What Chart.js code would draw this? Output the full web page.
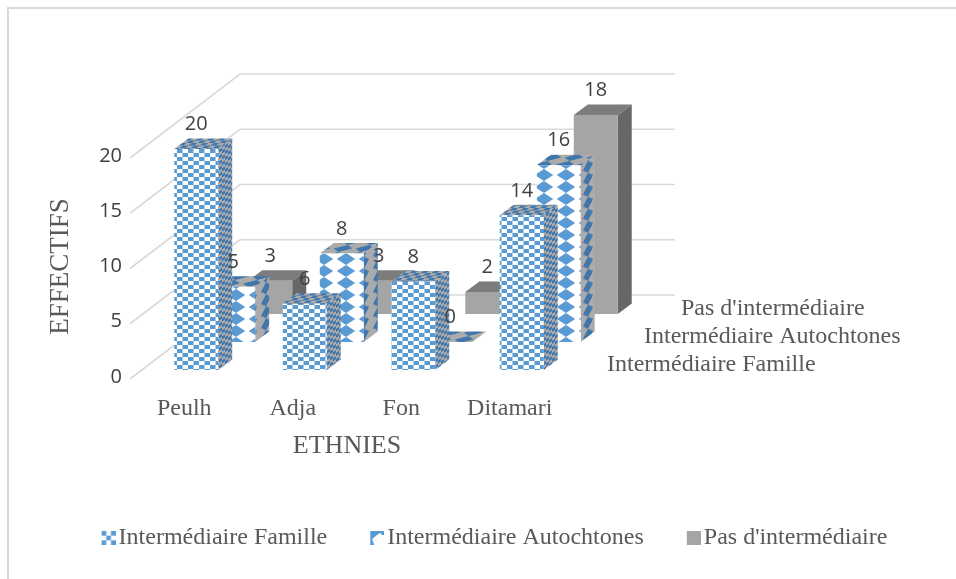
<!DOCTYPE html>
<html><head><meta charset="utf-8">
<style>
html,body{margin:0;padding:0;background:#fff;overflow:hidden}
#frame{position:absolute;left:7px;top:7px;right:0;bottom:0;border-left:2px solid #d9d9d9;border-top:2px solid #d9d9d9}
canvas{position:absolute;left:0;top:0}
</style>
<script src="https://cdn.jsdelivr.net/npm/chart.js@4"></script>
</head><body><div id="frame"></div><canvas id="c" width="956" height="579"></canvas>
<script>
const categories = ['Peulh','Adja','Fon','Ditamari'];
const seriesNames = ['Intermédiaire Famille','Intermédiaire Autochtones',"Pas d'intermédiaire"];
const famille = [20,6,8,14];
const autochtones = [5,8,0,16];
const aucun = [3,3,2,18];
const yTicks = [0,5,10,15,20];
const SERIF = '"Liberation Serif"', SANS = '"Open Sans"';
const BLUE = '#5B9BD5', DARKBLUE = '#3F76AB', SIDEGREY = '#ABABAB';

function tile(w,h,draw){const c=document.createElement('canvas');c.width=w;c.height=h;draw(c.getContext('2d'),w,h);return c;}
const ctxMain=document.getElementById('c').getContext('2d');
function checker(a,b,w,h){return tile(w,h,(g)=>{g.fillStyle=a;g.fillRect(0,0,w,h);g.fillStyle=b;g.fillRect(0,0,w/2,h/2);g.fillRect(w/2,h/2,w/2,h/2);});}
function diamond(bg,fg,w,h,k){return tile(w,h,(g)=>{g.fillStyle=bg;g.fillRect(0,0,w,h);g.fillStyle=fg;g.beginPath();g.moveTo(w/2-w*k,h/2);g.lineTo(w/2,0);g.lineTo(w/2+w*k,h/2);g.lineTo(w/2,h);g.closePath();g.fill();});}
function pat(c,m){const p=ctxMain.createPattern(c,'repeat');if(m)p.setTransform(m);return p;}
const sideM=new DOMMatrix([1,-0.75,0,1,0,0]);
const topM=new DOMMatrix([1,0,-1.33,1,0,0]);
const front=[pat(checker(BLUE,'#fff',11,8)),pat(diamond('#fff',BLUE,22,12,0.42)),'#A5A5A5'];
const side=[pat(checker(DARKBLUE,SIDEGREY,6,6),sideM),pat(diamond(SIDEGREY,DARKBLUE,14,12,0.36),sideM),'#676767'];
const topF=[pat(checker(DARKBLUE,SIDEGREY,11,5),topM),pat(diamond(SIDEGREY,DARKBLUE,22,7,0.42),topM),'#7C7C7C'];

const swatches=[
 tile(18,14,(g)=>{g.translate(4,0);g.fillStyle='#fff';g.fillRect(0,0,14,14);g.fillStyle=BLUE;for(let i=0;i<3;i++)for(let j=0;j<3;j++)if((i+j)%2==0)g.fillRect(i*4.67,j*4.67,4.67,4.67);}),
 tile(18,14,(g)=>{g.translate(4,0);g.fillStyle=BLUE;g.fillRect(0,0,14,14);g.fillStyle='#fff';g.beginPath();g.moveTo(2,8);g.lineTo(8,3);g.lineTo(14,1);g.lineTo(14,14);g.lineTo(4,14);g.closePath();g.fill();g.fillStyle=BLUE;g.fillRect(11,1,3,3);}),
 tile(18,14,(g)=>{g.translate(4,0);g.fillStyle='#A5A5A5';g.fillRect(0,0,14,14);})
];

// Depth of the 3D box: each series sits further back along the floor
const DEPTH_STEP={x:37,y:-28};
const FIRST={x:12,y:-7};
const BAR_DEPTH={x:14,y:-10.5};
const WALL={x:110,y:-82};
const off=(i)=>({x:FIRST.x+i*DEPTH_STEP.x,y:FIRST.y+i*DEPTH_STEP.y});

const box3d={
 id:'box3d',
 beforeDatasetsDraw(chart){
  const {ctx,scales:{y,x}}=chart;
  ctx.save();ctx.strokeStyle='#D9D9D9';ctx.lineWidth=1.6;
  yTicks.forEach(v=>{const py=y.getPixelForValue(v);
   ctx.beginPath();ctx.moveTo(x.left,py+2);ctx.lineTo(x.left+WALL.x,py+WALL.y);ctx.lineTo(x.left+WALL.x+435,py+WALL.y);ctx.stroke();});
  ctx.restore();
 },
 beforeDatasetDraw(chart,args){
  const {ctx}=chart;const i=args.index;const o=off(i);
  ctx.save();ctx.translate(o.x,o.y);
  args.meta.data.forEach(el=>{
   const p=el.getProps(['x','y','base','width'],true);
   const l=p.x-p.width/2,r=p.x+p.width/2;
   ctx.fillStyle=side[i];ctx.beginPath();ctx.moveTo(r,p.y);ctx.lineTo(r+BAR_DEPTH.x,p.y+BAR_DEPTH.y);ctx.lineTo(r+BAR_DEPTH.x,p.base+BAR_DEPTH.y);ctx.lineTo(r,p.base);ctx.closePath();ctx.fill();
   ctx.fillStyle=topF[i];ctx.beginPath();ctx.moveTo(l,p.y);ctx.lineTo(l+BAR_DEPTH.x,p.y+BAR_DEPTH.y);ctx.lineTo(r+BAR_DEPTH.x,p.y+BAR_DEPTH.y);ctx.lineTo(r,p.y);ctx.closePath();ctx.fill();
  });
 },
 afterDatasetDraw(chart){chart.ctx.restore();},
 afterDatasetsDraw(chart){
  const {ctx,scales:{x}}=chart;
  ctx.save();ctx.textAlign='center';ctx.textBaseline='middle';ctx.fillStyle='#404040';ctx.font='20px '+SANS;
  chart.data.datasets.forEach((ds,i)=>{const o=off(i);
   chart.getDatasetMeta(i).data.forEach((el,k)=>{ctx.fillText(String(ds.data[k]),el.x+o.x,el.y+o.y-24.5);});});
  ctx.textAlign='left';ctx.fillStyle='#595959';ctx.font='24px '+SERIF;
  chart.data.datasets.forEach((ds,i)=>{ctx.fillText(ds.label,x.right+43+i*DEPTH_STEP.x,365+i*DEPTH_STEP.y);});
  ctx.restore();
 }
};

new Chart(ctxMain,{
 type:'bar',
 data:{labels:categories,datasets:[
  {label:seriesNames[0],data:famille,backgroundColor:front[0]},
  {label:seriesNames[1],data:autochtones,backgroundColor:front[1]},
  {label:seriesNames[2],data:aucun,backgroundColor:front[2]}
 ].map(d=>Object.assign(d,{clip:false,grouped:false,barPercentage:0.405,categoryPercentage:1,borderWidth:0}))},
 plugins:[box3d],
 options:{
  responsive:false,animation:false,
  layout:{padding:{left:38,top:156,right:0,bottom:19}},
  plugins:{
   tooltip:{enabled:false},
   legend:{position:'bottom',labels:{
    usePointStyle:true,boxWidth:0.01,boxHeight:14,padding:48,color:'#595959',font:{family:SERIF,size:24},
    generateLabels(chart){const l=Chart.defaults.plugins.legend.labels.generateLabels(chart);l.forEach((it,i)=>{it.pointStyle=swatches[i];});return l;}
   }}
  },
  scales:{
   x:{grid:{display:false},border:{display:false},
    afterFit(s){s.height=101;},
    ticks:{color:'#595959',font:{family:SERIF,size:24},padding:9,maxRotation:0,autoSkip:false},
    title:{display:true,text:'ETHNIES',color:'#595959',font:{family:SERIF,size:26},padding:{top:0,bottom:16}}},
   y:{min:0,max:20,grid:{display:false},border:{display:false},
    afterFit(s){s.width=92;},
    ticks:{stepSize:5,color:'#404040',font:{family:SANS,size:20},padding:0},
    title:{display:true,text:'EFFECTIFS',color:'#595959',font:{family:SERIF,size:27},padding:{top:7,bottom:0}}},
   y2:{position:'right',display:true,grid:{display:false},border:{display:false},ticks:{display:false},afterFit(s){s.width=392;}}
  }
 }
});
</script></body></html>
